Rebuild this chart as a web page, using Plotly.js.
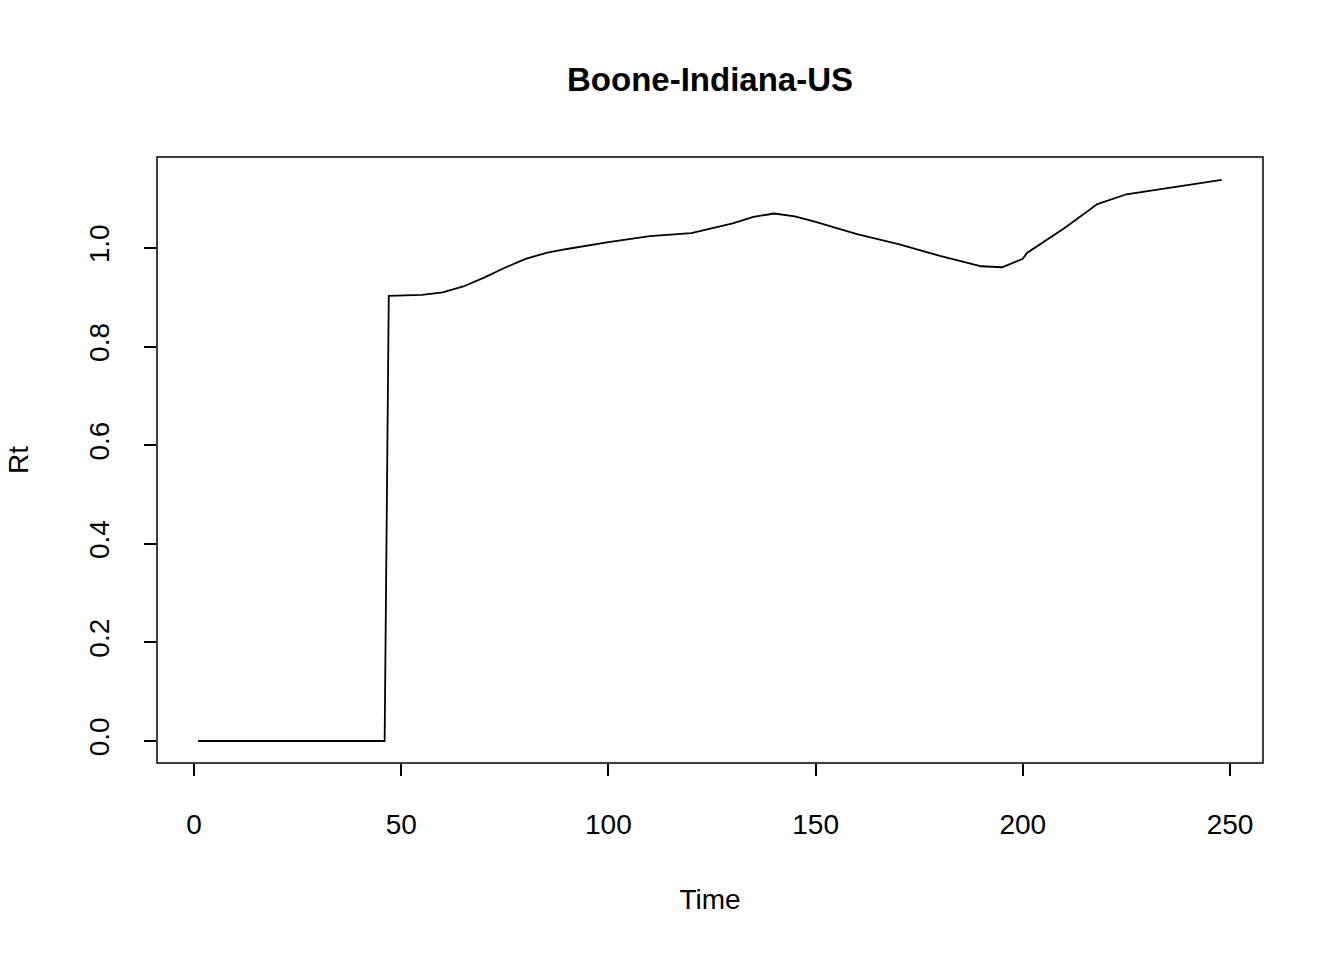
<!DOCTYPE html>
<html>
<head>
<script src="https://cdn.plot.ly/plotly-3.0.1.min.js"></script>
<style>body{margin:0;background:#fff}</style>
</head>
<body>
<div id="graph" style="width:1344px;height:960px"></div>
<script>
const time = [1, 46, 47, 55, 60, 65, 70, 75, 80, 85, 90, 100, 110, 120, 130, 135, 140, 145, 150, 160, 170, 180, 190, 195, 200, 201, 210, 218, 225, 235, 248];
const rt = [0, 0, 0.903, 0.905, 0.91, 0.922, 0.94, 0.96, 0.978, 0.99, 0.998, 1.012, 1.024, 1.03, 1.05, 1.063, 1.07, 1.064, 1.053, 1.028, 1.008, 0.984, 0.963, 0.961, 0.978, 0.99, 1.04, 1.089, 1.109, 1.122, 1.138];
const xTicks = [0, 50, 100, 150, 200, 250];
const yTicks = [0, 0.2, 0.4, 0.6, 0.8, 1.0];

const font = {family: 'Liberation Sans, Arial, sans-serif', color: '#000'};
const layout = {
  width: 1344, height: 960,
  margin: {l: 157, r: 81, t: 157, b: 197},
  paper_bgcolor: '#fff', plot_bgcolor: '#fff',
  showlegend: false,
  font: Object.assign({size: 27}, font),
  title: {text: '<b>Boone-Indiana-US</b>', font: Object.assign({size: 33}, font), xref: 'paper', x: 0.5, xanchor: 'center', y: 0.917, yanchor: 'middle'},
  xaxis: {
    range: [-8.93, 257.96], showgrid: false, zeroline: false, showline: false,
    tickvals: xTicks, ticktext: xTicks.map(String), ticks: 'outside', ticklen: 12, tickwidth: 1.5, tickcolor: '#000',
    ticklabelstandoff: 24,
    tickfont: Object.assign({size: 28}, font),
    title: {text: 'Time', font: Object.assign({size: 28}, font), standoff: 50}
  },
  yaxis: {
    range: [-0.0446, 1.1846], showgrid: false, zeroline: false, showline: false,
    tickvals: yTicks, ticktext: yTicks.map(v => v.toFixed(1)), ticks: 'outside', ticklen: 12, tickwidth: 1.5, tickcolor: '#000',
    ticklabelstandoff: 24,
    tickangle: -90, tickfont: Object.assign({size: 28}, font),
    title: {text: 'Rt', font: Object.assign({size: 28}, font), standoff: 46}
  },
  shapes: [{type: 'rect', xref: 'paper', yref: 'paper', x0: 0, x1: 1, y0: 0, y1: 1, line: {color: '#000', width: 1.5}}]
};
Plotly.newPlot('graph', [{x: time, y: rt, mode: 'lines', line: {color: '#000', width: 1.8}}], layout, {displayModeBar: false});
</script>
</body>
</html>
